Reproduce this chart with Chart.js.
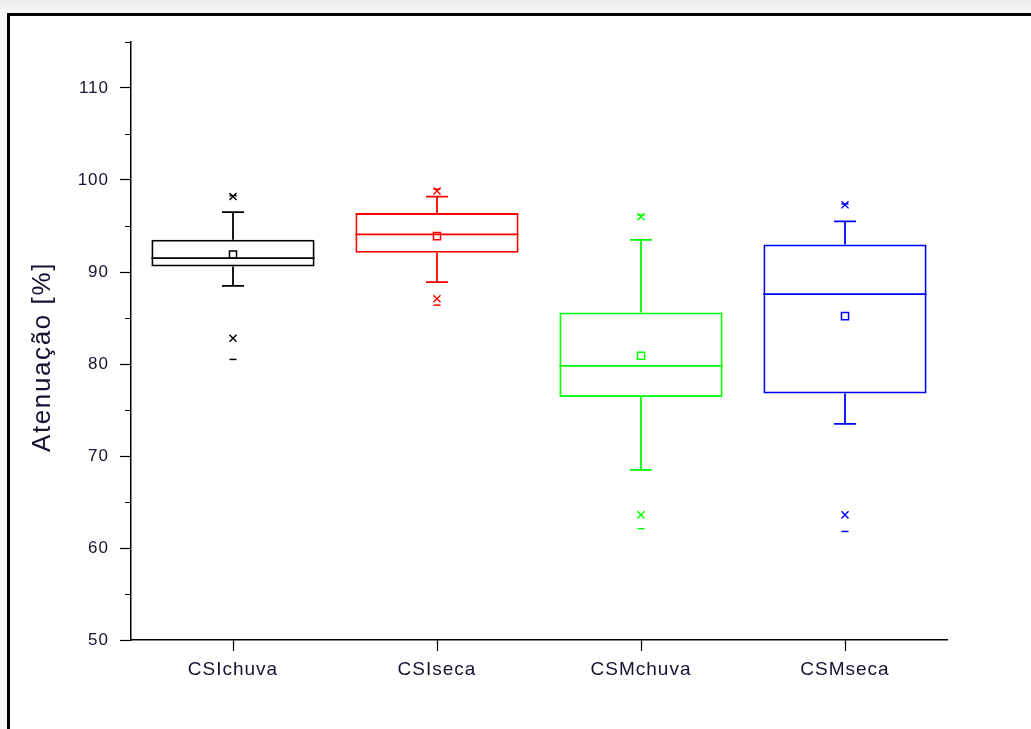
<!DOCTYPE html>
<html>
<head>
<meta charset="utf-8">
<script src="https://cdn.jsdelivr.net/npm/chart.js@4/dist/chart.umd.min.js"></script>
<style>
  html, body { margin: 0; padding: 0; width: 1031px; height: 729px; overflow: hidden; }
  body { background: linear-gradient(#ececec, #f7f7f7 13px, #f7f7f7); position: relative; }
  #frame {
    position: absolute; left: 7px; top: 13px; width: 1100px; height: 800px;
    border-left: 3.5px solid #000; border-top: 3.5px solid #000; background: #fff;
  }
  #chart { position: absolute; left: 0; top: 0; }
</style>
</head>
<body>
<div id="frame"></div>
<canvas id="chart" width="1031" height="729"></canvas>
<script>
// box chart values
const categories = ['CSIchuva', 'CSIseca', 'CSMchuva', 'CSMseca']
const q1 = [90.6, 92.1, 76.4, 76.8]
const q3 = [93.5, 96.4, 85.6, 93.0]
const median = [91.5, 94.1, 79.8, 87.6]
const mean = [91.9, 93.9, 80.9, 85.2]
const whiskerLow = [88.5, 88.9, 68.5, 73.5]
const whiskerHigh = [96.5, 98.2, 93.5, 95.5]
const pct1 = [82.8, 87.1, 63.6, 63.6]
const pct99 = [98.2, 98.8, 96.0, 97.3]
const minVal = [80.5, 86.4, 62.1, 61.8]
const maxVal = [98.3, 99.0, 96.2, 97.4]
const yTicks = [50, 60, 70, 80, 90, 100, 110]
const yMinorTicks = [55, 65, 75, 85, 95, 105, 115]
const yTitle = 'Atenuação [%]'

const colors = ['#000000', '#ff0000', '#00ff00', '#0000ff']
const font = "'Liberation Sans', Arial, sans-serif"
const textColor = '#141432'

// whiskers, caps, medians, minor ticks and the y title
const boxExtras = {
  id: 'boxExtras',
  beforeDraw(chart) {
    chart.ctx.letterSpacing = '1px'
  },
  beforeDatasetsDraw(chart) {
    const {ctx, scales: {x, y}} = chart
    ctx.save()
    ctx.lineWidth = 1.8
    categories.forEach((c, i) => {
      const cx = x.getPixelForValue(i)
      const step = x.getPixelForValue(1) - x.getPixelForValue(0)
      const boxHalf = step * 0.4
      ctx.strokeStyle = colors[i]
      ctx.beginPath()
      // median
      ctx.moveTo(cx - boxHalf, y.getPixelForValue(median[i]))
      ctx.lineTo(cx + boxHalf, y.getPixelForValue(median[i]))
      // whiskers
      ctx.moveTo(cx, y.getPixelForValue(q3[i]))
      ctx.lineTo(cx, y.getPixelForValue(whiskerHigh[i]))
      ctx.moveTo(cx, y.getPixelForValue(q1[i]))
      ctx.lineTo(cx, y.getPixelForValue(whiskerLow[i]))
      // caps
      ctx.moveTo(cx - 11, y.getPixelForValue(whiskerHigh[i]))
      ctx.lineTo(cx + 11, y.getPixelForValue(whiskerHigh[i]))
      ctx.moveTo(cx - 11, y.getPixelForValue(whiskerLow[i]))
      ctx.lineTo(cx + 11, y.getPixelForValue(whiskerLow[i]))
      ctx.stroke()
    })
    // minor ticks on the y axis
    ctx.strokeStyle = '#000'
    ctx.lineWidth = 1.2
    ctx.beginPath()
    yMinorTicks.forEach(v => {
      const py = Math.round(y.getPixelForValue(v)) + 0.5
      ctx.moveTo(y.right - 6, py)
      ctx.lineTo(y.right, py)
    })
    ctx.stroke()

    // y axis title, sitting a little below the axis middle as in the original
    ctx.translate(43, (y.top + y.bottom) / 2 + 16)
    ctx.rotate(-Math.PI / 2)
    ctx.letterSpacing = '1.6px'
    ctx.font = "26px " + font
    ctx.fillStyle = textColor
    ctx.textAlign = 'center'
    ctx.textBaseline = 'middle'
    ctx.fillText(yTitle, 0, 0)
    ctx.restore()
  }
}

const markerSet = (data, style, radius, width) => ({
  type: 'line',
  data,
  showLine: false,
  pointStyle: style,
  pointRadius: radius,
  pointHoverRadius: radius,
  pointBorderWidth: width,
  pointBorderColor: colors,
  pointBackgroundColor: 'rgba(0,0,0,0)'
})

new Chart(
  document.getElementById('chart'),
  {
    type: 'bar',
    data: {
      labels: categories,
      datasets: [
        {
          data: q1.map((v, i) => [v, q3[i]]),
          backgroundColor: 'rgba(0,0,0,0)',
          borderColor: colors,
          borderWidth: 1.8,
          borderSkipped: false,
          barPercentage: 0.8,
          categoryPercentage: 1,
          grouped: false
        },
        markerSet(mean, 'rect', 5, 1.5),
        markerSet(pct1, 'crossRot', 5, 1.4),
        markerSet(pct99, 'crossRot', 5, 1.4),
        markerSet(minVal, 'line', 3.5, 1.5),
        markerSet(maxVal, 'line', 3.5, 1.5)
      ]
    },
    options: {
      responsive: false,
      animation: false,
      devicePixelRatio: 1,
      layout: {
        padding: { left: 0, top: 42, right: 84, bottom: 0 }
      },
      plugins: {
        legend: { display: false },
        tooltip: { enabled: false }
      },
      scales: {
        x: {
          offset: true,
          grid: {
            offset: false,
            drawOnChartArea: false,
            tickLength: 11,
            tickColor: '#000',
            tickWidth: 1.2
          },
          border: { color: '#000', width: 1.5 },
          ticks: {
            color: textColor,
            font: { family: font, size: 19 },
            padding: 7
          },
          afterFit(scale) { scale.height = 89 }
        },
        y: {
          min: 50,
          max: 115,
          afterBuildTicks(scale) {
            scale.ticks = yTicks.map(v => ({ value: v }))
          },
          grid: {
            drawOnChartArea: false,
            tickLength: 11,
            tickColor: '#000',
            tickWidth: 1.2
          },
          border: { color: '#000', width: 1.5 },
          ticks: {
            color: textColor,
            font: { family: font, size: 17 },
            padding: 11
          },
          afterFit(scale) { scale.width = 131 }
        }
      }
    },
    plugins: [boxExtras]
  }
)
</script>
</body>
</html>
